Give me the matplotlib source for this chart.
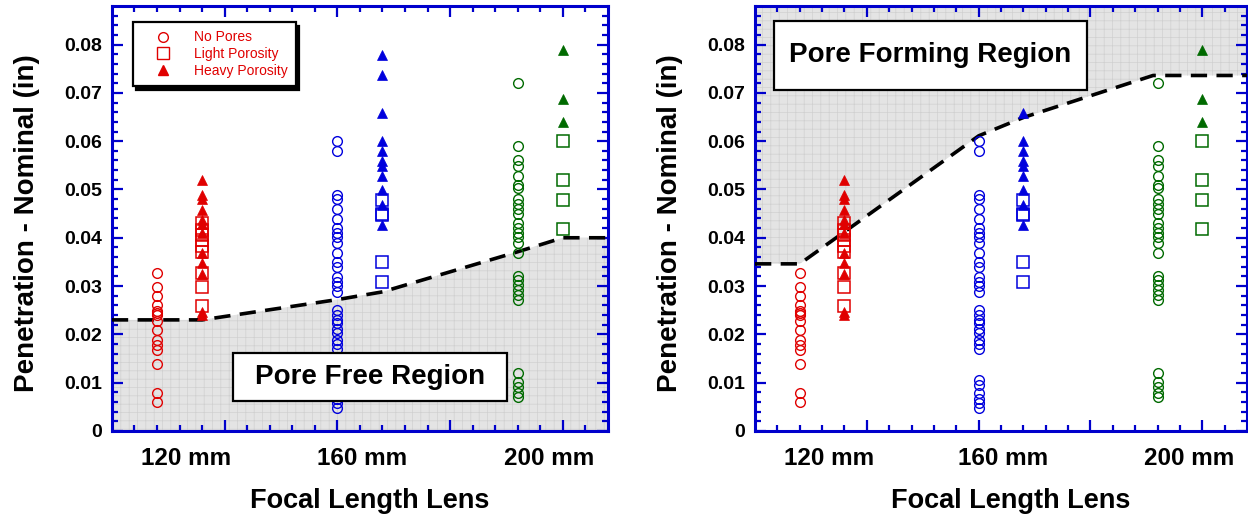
import numpy as np
import matplotlib
matplotlib.use("Agg")
import matplotlib.pyplot as plt
from matplotlib.patches import Rectangle
from matplotlib.lines import Line2D
import matplotlib.transforms as mtransforms

plt.rcParams['font.family'] = ['Liberation Sans', 'DejaVu Sans']
plt.rcParams['hatch.linewidth'] = 0.5

# x positions (minor-tick units) of the groups
circ_pos = [2, 10, 18]
porous_pos = [4, 12, 20]
lens_labels = ['120 mm', '160 mm', '200 mm']
lens_label_pos = [3.3, 11.1, 19.4]

# penetration - nominal (in)
red_circ = [0.0328, 0.0299, 0.0280, 0.0260, 0.0249, 0.0245, 0.0240, 0.0228, 0.0209,
            0.0188, 0.0178, 0.0168, 0.0139, 0.0079, 0.0059]
red_sq = [0.0430, 0.0416, 0.0406, 0.0396, 0.0382, 0.0371, 0.0328, 0.0299, 0.0259]
red_tri = [0.0519, 0.0489, 0.0480, 0.0458, 0.0437, 0.0429, 0.0409, 0.0368, 0.0347,
           0.0326, 0.0247, 0.0240]

blue_circ = [0.0600, 0.0580, 0.0489, 0.0480, 0.0459, 0.0439, 0.0420, 0.0409, 0.0401,
             0.0389, 0.0369, 0.0349, 0.0340, 0.0318, 0.0309, 0.0300, 0.0288, 0.0250,
             0.0240, 0.0230, 0.0223, 0.0212, 0.0202, 0.0189, 0.0180, 0.0169, 0.0106,
             0.0095, 0.0079, 0.0067, 0.0057, 0.0048]
blue_sq = [0.0478, 0.0450, 0.0447, 0.0349, 0.0309]
blue_tri = [0.0779, 0.0738, 0.0658, 0.0600, 0.0579, 0.0558, 0.0549, 0.0528, 0.0499,
            0.0468, 0.0427]
blue_tri_right = [0.0658, 0.0600, 0.0579, 0.0558, 0.0549, 0.0528, 0.0499, 0.0468, 0.0427]

green_circ = [0.0721, 0.0589, 0.0560, 0.0549, 0.0528, 0.0510, 0.0503, 0.0480, 0.0470,
              0.0459, 0.0449, 0.0430, 0.0420, 0.0409, 0.0401, 0.0389, 0.0369, 0.0321,
              0.0313, 0.0302, 0.0292, 0.0281, 0.0271, 0.0119, 0.0102, 0.0091, 0.0079,
              0.0071]
green_sq = [0.0600, 0.0519, 0.0478, 0.0419]
green_tri = [0.0788, 0.0688, 0.0639]

# region boundaries
free_x = [0, 4, 10, 12, 18, 20, 22]
free_y = [0.0230, 0.0230, 0.0272, 0.0288, 0.0371, 0.0400, 0.0400]
form_x = [0, 2, 10, 12, 17.8, 22]
form_y = [0.0346, 0.0346, 0.0611, 0.0649, 0.0736, 0.0736]

RED = '#e00000'
BLUE = '#0000dd'
GREEN = '#006a00'
AXBLUE = '#0000cc'
YMAX = 0.088


def style_axes(ax):
    ax.set_xlim(0, 22)
    ax.set_ylim(0, YMAX)
    for s in ax.spines.values():
        s.set_color(AXBLUE)
        s.set_linewidth(2.2)
    ax.set_xticks([5, 10, 15, 20])
    ax.set_xticks(np.arange(1, 22), minor=True)
    ax.set_xticklabels([])
    ax.set_yticks(np.arange(0, 0.081, 0.01))
    ax.set_yticks(np.arange(0, 0.088, 0.002), minor=True)
    ax.set_yticklabels(['0'] + ['%.2f' % v for v in np.arange(0.01, 0.081, 0.01)],
                       fontweight='bold', fontsize=14)
    ax.tick_params(which='both', direction='in', top=True, right=True,
                   color=AXBLUE, width=1.6)
    ax.tick_params(which='major', length=8, pad=7)
    ax.tick_params(which='minor', length=4)
    trans = mtransforms.blended_transform_factory(ax.transData, ax.transAxes)
    for p, lab in zip(lens_label_pos, lens_labels):
        ax.text(p, -0.064, lab, transform=trans, ha='center', va='center',
                fontsize=17.5, fontweight='bold')
    ax.text(0.52, -0.165, 'Focal Length Lens', transform=ax.transAxes,
            ha='center', va='center', fontsize=19.5, fontweight='bold')
    ax.set_ylabel('Penetration - Nominal (in)', fontsize=20, fontweight='bold')
    ax.yaxis.set_label_coords(-0.146, 0.49)


def draw_points(ax, btri):
    groups = [(red_circ, red_sq, red_tri, RED),
              (blue_circ, blue_sq, btri, BLUE),
              (green_circ, green_sq, green_tri, GREEN)]
    for i, (c, s, t, col) in enumerate(groups):
        ax.plot([circ_pos[i]] * len(c), c, 'o', ms=7, mfc='none', mec=col,
                mew=1.0, zorder=4)
        ax.plot([porous_pos[i]] * len(s), s, 's', ms=9, mfc='none', mec=col,
                mew=1.1, zorder=4)
        ax.plot([porous_pos[i]] * len(t), t, '^', ms=7.5, mfc=col, mec=col,
                mew=0.5, zorder=4)


fig = plt.figure(figsize=(12.48, 5.19), dpi=100)
ax1 = fig.add_axes([0.0897, 0.1696, 0.3974, 0.819])
ax2 = fig.add_axes([0.605, 0.1696, 0.3942, 0.819])

# left: pore free region below line
ax1.fill_between(free_x, free_y, 0, facecolor='#e4e4e4', edgecolor='#d0d0d0',
                 hatch='++', linewidth=0, zorder=1)
ax1.plot(free_x, free_y, color='black', lw=2.6, ls=(0, (4.5, 2.6)), zorder=3)
draw_points(ax1, blue_tri)
style_axes(ax1)
ax1.add_patch(Rectangle((0.244, 0.0706), 0.552, 0.113, transform=ax1.transAxes,
                        facecolor='white', edgecolor='black', lw=1.6, zorder=5))
ax1.text(0.52, 0.127, 'Pore Free Region', transform=ax1.transAxes, ha='center',
         va='center', fontsize=20, fontweight='bold', zorder=6)

handles = [Line2D([], [], ls='none', marker='o', ms=7, mfc='none', mec=RED),
           Line2D([], [], ls='none', marker='s', ms=9, mfc='none', mec=RED),
           Line2D([], [], ls='none', marker='^', ms=7.5, mfc=RED, mec=RED)]
leg = ax1.legend(handles, ['No Pores', 'Light Porosity', 'Heavy Porosity'],
                 loc='upper left', bbox_to_anchor=(0.042, 0.962), borderaxespad=0,
                 fontsize=10, labelcolor=RED, fancybox=False, frameon=True,
                 edgecolor='black', framealpha=1, borderpad=0.6, labelspacing=0.2,
                 handlelength=3.2, handletextpad=0.6,
                 shadow={'ox': 2.5, 'oy': -2.5, 'color': 'black', 'alpha': 1})
leg.get_frame().set_linewidth(1.6)
leg.set_zorder(6)

# right: pore forming region above line
ax2.fill_between(form_x, form_y, YMAX, facecolor='#e4e4e4', edgecolor='#d0d0d0',
                 hatch='++', linewidth=0, zorder=1)
ax2.plot(form_x, form_y, color='black', lw=2.6, ls=(0, (4.5, 2.6)), zorder=3)
draw_points(ax2, blue_tri_right)
style_axes(ax2)
ax2.add_patch(Rectangle((0.0386, 0.802), 0.636, 0.162, transform=ax2.transAxes,
                        facecolor='white', edgecolor='black', lw=1.6, zorder=5))
ax2.text(0.356, 0.885, 'Pore Forming Region', transform=ax2.transAxes, ha='center',
         va='center', fontsize=20, fontweight='bold', zorder=6)

fig.savefig('out.png', dpi=100)
